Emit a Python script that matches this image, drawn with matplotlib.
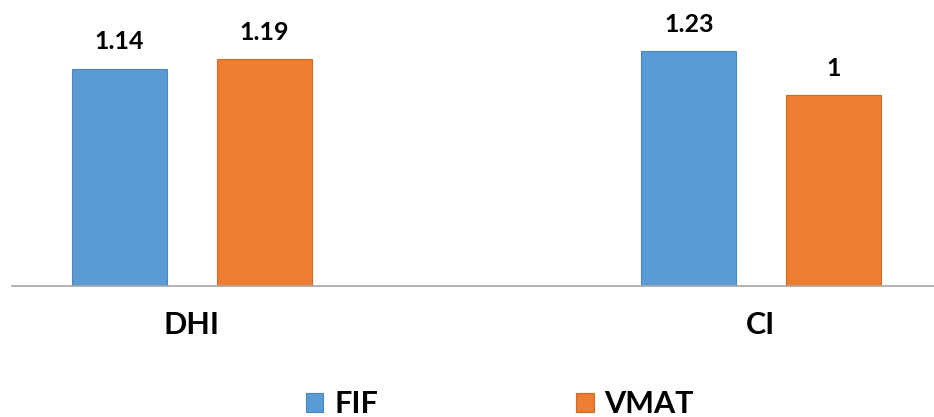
import matplotlib.pyplot as plt
import numpy as np

categories = ['DHI', 'CI']
fif = [1.14, 1.23]
vmat = [1.19, 1.0]
fif_labels = ['1.14', '1.23']
vmat_labels = ['1.19', '1']

plt.rcParams['font.family'] = ['Lato', 'DejaVu Sans']

fig = plt.figure(figsize=(9.34, 4.17), dpi=100)
ax = fig.add_axes([12 / 934, 131 / 417, 922 / 934, 267 / 417])

x = np.arange(len(categories))
w = 0.167
off = 0.127
b1 = ax.bar(x - off, fif, w, color='#5B9BD5', edgecolor='#4A86BE', linewidth=0.8, label='FIF')
b2 = ax.bar(x + off, vmat, w, color='#ED7D31', edgecolor='#D06A24', linewidth=0.8, label='VMAT')

for bars, labs in [(b1, fif_labels), (b2, vmat_labels)]:
    for bar, lab in zip(bars, labs):
        ax.annotate(lab, (bar.get_x() + bar.get_width() / 2, bar.get_height()),
                    xytext=(0, 14), textcoords='offset points',
                    ha='center', va='baseline', fontsize=18, fontweight='bold')

ax.set_xlim(-0.316, 1.304)
ax.set_ylim(0, 1.4)
ax.set_xticks(x)
ax.set_xticklabels(categories, fontsize=22, fontweight='bold')
ax.tick_params(axis='x', length=0, pad=18)
ax.set_yticks([])
for s in ['top', 'right', 'left']:
    ax.spines[s].set_visible(False)
ax.spines['bottom'].set_color('#A6A6A6')
ax.spines['bottom'].set_linewidth(1.2)

fig.legend(handles=[b1, b2], loc='center', bbox_to_anchor=(500 / 934, 13 / 417),
           ncol=2, frameon=False, prop={'size': 22, 'weight': 'bold'},
           handlelength=0.56, handleheight=0.56, handletextpad=0.35, columnspacing=6.5)

fig.savefig('out.png', dpi=100)
